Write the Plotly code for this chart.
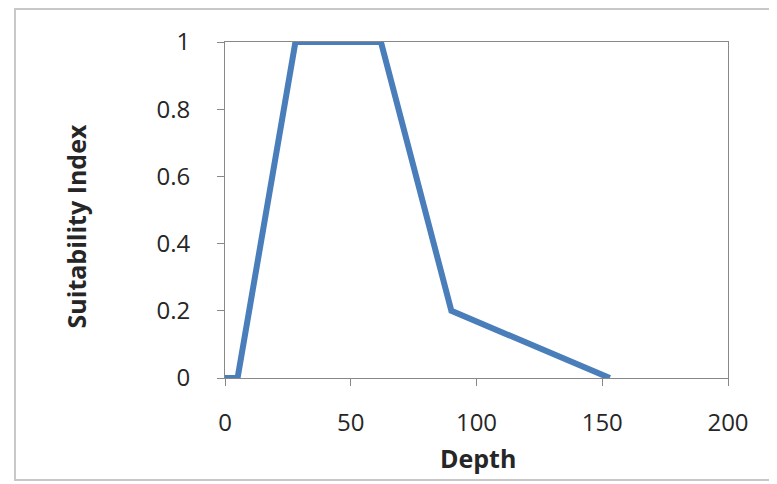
import plotly.graph_objects as go

depth = [0, 5, 28, 62, 90, 153]
suitability = [0, 0, 1, 1, 0.2, 0]
x_ticks = [0, 50, 100, 150, 200]
y_ticks = [0, 0.2, 0.4, 0.6, 0.8, 1]
y_tick_labels = ["0", "0.2", "0.4", "0.6", "0.8", "1"]
x_title = "Depth"
y_title = "Suitability Index"

fig = go.Figure()
fig.add_trace(go.Scatter(x=depth, y=suitability, mode="lines",
                         line=dict(color="#4a7ebb", width=6), showlegend=False))

fig.update_layout(
    width=777, height=484,
    margin=dict(l=217, r=57, t=34, b=114),
    paper_bgcolor="white", plot_bgcolor="white",
    font=dict(family="Open Sans, Liberation Sans, sans-serif", color="#262626"),
    shapes=[dict(type="rect", xref="paper", yref="paper",
                 x0=-210/503, x1=545/503, y0=-102/336, y1=369/336,
                 line=dict(color="#c8c8c8", width=2), fillcolor="rgba(0,0,0,0)", layer="below")],
    annotations=[
        dict(text="<b>" + x_title + "</b>", xref="paper", yref="paper",
             x=0.502, y=-0.237, xanchor="center", yanchor="middle",
             showarrow=False, font=dict(size=25, color="#262626")),
        dict(text="<b>" + y_title + "</b>", xref="paper", yref="paper",
             x=-0.297, y=0.45, xanchor="center", yanchor="middle", textangle=-90,
             showarrow=False, font=dict(size=25, color="#262626")),
    ],
)
fig.update_xaxes(range=[0, 200], tickvals=x_ticks, showgrid=False, zeroline=False,
                 showline=True, linecolor="#888", linewidth=1, mirror=True,
                 ticks="outside", ticklen=7, tickcolor="#888",
                 tickfont=dict(size=24), ticklabelstandoff=16)
fig.update_yaxes(range=[0, 1], tickvals=y_ticks, ticktext=y_tick_labels, showgrid=False, zeroline=False,
                 showline=True, linecolor="#888", linewidth=1, mirror=True,
                 ticks="outside", ticklen=7, tickcolor="#888",
                 tickfont=dict(size=24), ticklabelstandoff=22)

fig.write_html("out.html")
